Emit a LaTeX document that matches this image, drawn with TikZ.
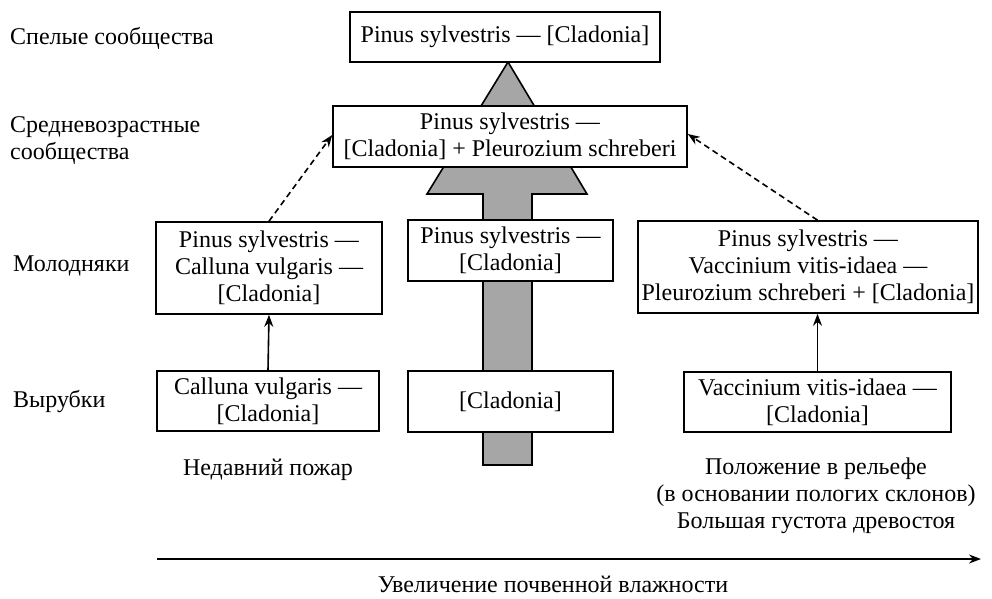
\documentclass[tikz,border=0pt]{standalone}
\usepackage{fontspec}
\setmainfont{Liberation Serif}
\newfontfamily\timesf[Ligatures=TeX]{Liberation Serif}
\usetikzlibrary{arrows.meta}
\begin{document}
\begin{tikzpicture}[x=1pt,y=-1pt,
  every node/.style={font=\timesf\fontsize{24}{27}\selectfont, inner sep=0pt},
  box/.style={draw, line width=1.6pt, fill=white, align=center},
  lbl/.style={anchor=west, align=left},
  note/.style={align=center},
  solidarr/.style={line width=1.6pt, -{Stealth[length=12pt,width=9pt]}},
  dasharr/.style={line width=1.6pt, dashed, dash pattern=on 6pt off 4pt, -{Stealth[length=12pt,width=9pt]}},
  grayarr/.style={draw, line width=1.6pt, fill=black!35}
]
\useasboundingbox (0,0) rectangle (992,598);

% gray big arrow
\draw[grayarr] (483,465) -- (483,194) -- (427,194) -- (508,62) -- (587,194) -- (532,194) -- (532,465) -- cycle;

% boxes
\node[box, minimum width=310pt, minimum height=50pt] (top) at (505,37) {Pinus sylvestris — {[Cladonia]}};
\node[box, minimum width=354pt, minimum height=61pt] (mid) at (510,136.5) {Pinus sylvestris —\\ {[Cladonia]} + Pleurozium schreberi};
\node[box, minimum width=226pt, minimum height=92pt] (l1) at (269,268) {Pinus sylvestris —\\ Calluna vulgaris —\\ {[Cladonia]}};
\node[box, minimum width=205pt, minimum height=61pt] (c1) at (510.5,250.5) {Pinus sylvestris —\\ {[Cladonia]}};
\node[box, minimum width=340pt, minimum height=92pt] (r1) at (808,267) {Pinus sylvestris —\\ Vaccinium vitis-idaea —\\ Pleurozium schreberi + {[Cladonia]}};
\node[box, minimum width=222pt, minimum height=60pt] (l0) at (268,401) {Calluna vulgaris —\\ {[Cladonia]}};
\node[box, minimum width=205pt, minimum height=61pt] (c0) at (510.5,401.5) {{[Cladonia]}};
\node[box, minimum width=267pt, minimum height=60pt] (r0) at (817.5,402) {Vaccinium vitis-idaea —\\ {[Cladonia]}};

% row labels
\node[lbl] (t1) at (10,38) {Спелые сообщества};
\node[lbl] (t2) at (10,140.5) {Средневозрастные\\ сообщества};
\node[lbl] (t3) at (13,266) {Молодняки};
\node[lbl] (t4) at (13,401) {Вырубки};

% notes
\node[note] (n1) at (268,470) {Недавний пожар};
\node[note] (n2) at (816,496) {Положение в рельефе\\ (в основании пологих склонов)\\ Большая густота древостоя};

% arrows
\draw[solidarr] (l0.north) -- (l1.south);
\draw[solidarr] (r0.north) -- (r0.north |- r1.south);
\coordinate (lstart) at (l1.north);
\coordinate (rstart) at (r0.north |- r1.north);
\coordinate (mleft) at ([yshift=1.5pt]mid.west);
\coordinate (mright) at ([yshift=2.5pt]mid.east);
\draw[dasharr] (lstart) -- (mleft);
\draw[dasharr] (rstart) -- (mright);

% axis
\coordinate (a0) at (157,559);
\coordinate (a1) at (981,559);
\draw[solidarr] (a0) -- (a1);
\node[note] (ax) at (553,584) {Увеличение почвенной влажности};
\end{tikzpicture}
\end{document}
